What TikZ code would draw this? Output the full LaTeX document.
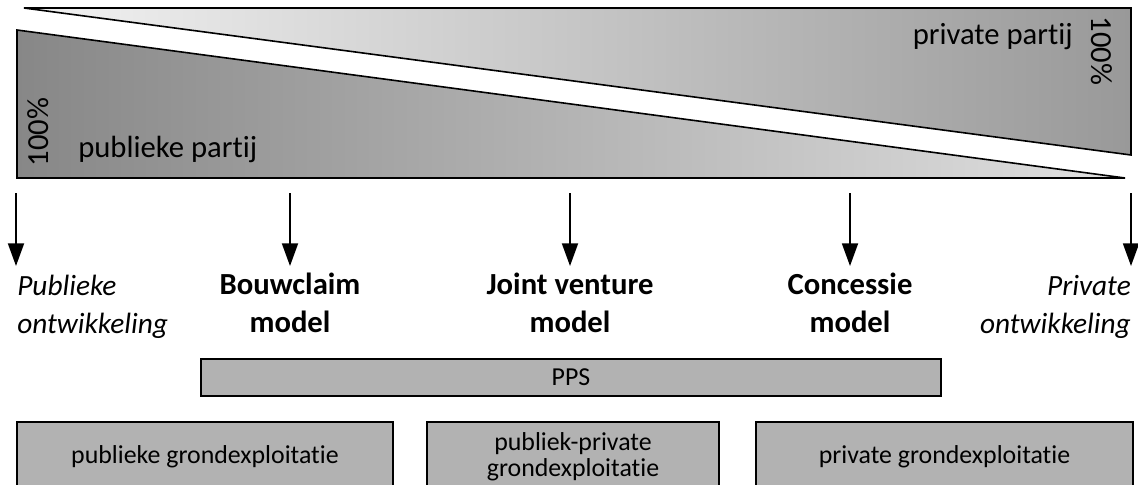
\documentclass[tikz,border=0pt]{standalone}
\usepackage{fontspec}
\setmainfont[Ligatures=NoCommon]{Carlito}
\usetikzlibrary{arrows.meta}
\newlength{\pxu}
\setlength{\pxu}{0.75pt}

\begin{document}
\begin{tikzpicture}[x=0.75pt, y=-0.75pt,
    wedge/.style={draw=black, line width=1.2pt},
    arr/.style={line width=1.4pt, -{Triangle[width=12pt,length=17pt]}},
    box/.style={draw=black, line width=0.9pt, fill=black!30, align=center,
        inner sep=0pt, font=\fontsize{19.4}{19.5}\selectfont},
    model/.style={font=\fontsize{23}{28.5}\selectfont\bfseries, align=center,
        anchor=north, inner sep=0pt},
    ontw/.style={font=\fontsize{22}{28.5}\selectfont\itshape, inner sep=0pt},
    share/.style={font=\fontsize{23}{28}\selectfont, inner sep=0pt}]
    \useasboundingbox (0,0) rectangle (1138,485);

    % Shares of both parties
    \draw[wedge, left color=black!5, right color=black!40]
        (24,8) -- (1131,8) -- (1131,155) -- cycle;
    \draw[wedge, left color=black!47, right color=black!12]
        (17,30) -- (1125,178) -- (17,178) -- cycle;

    \node[share, anchor=base west] (pub) at (78,157) {publieke partij};
    \node[share, anchor=base east] (priv) at (1073,45) {private partij};
    \node[share, rotate=90] (pctpub) at (38,132) {100\%};
    \node[share, rotate=-90] (pctpriv) at (1102,51) {100\%};

    % Arrows
    \foreach \x/\n in {16/a, 290/b, 570/c, 850/d, 1131/e} {
        \coordinate (top\n) at (\x,193);
        \coordinate (tip\n) at (\x,266);
        \draw[arr] (top\n) -- (tip\n);
    }

    % Forms of development
    \node[ontw, anchor=north west, align=left] (ontwpub) at (17,275) {Publieke\\ontwikkeling};
    \node[model] (bouw) at (290,273) {Bouwclaim\\model};
    \node[model] (joint) at (570,273) {Joint venture\\model};
    \node[model] (conc) at (850,273) {Concessie\\model};
    \node[ontw, anchor=north east, align=right] (ontwpriv) at (1131,275) {Private\\ontwikkeling};

    % Boxes
    \node[box, minimum width=740\pxu, minimum height=37\pxu] (pps) at (571,377.5) {PPS};
    \node[box, minimum width=376\pxu, minimum height=70\pxu] (gpub) at (205,457) {publieke grondexploitatie};
    \node[box, minimum width=292\pxu, minimum height=70\pxu] (gmix) at (573,457) {publiek-private\\grondexploitatie};
    \node[box, minimum width=377\pxu, minimum height=70\pxu] (gpriv) at (944.5,457) {private grondexploitatie};
\end{tikzpicture}
\end{document}
